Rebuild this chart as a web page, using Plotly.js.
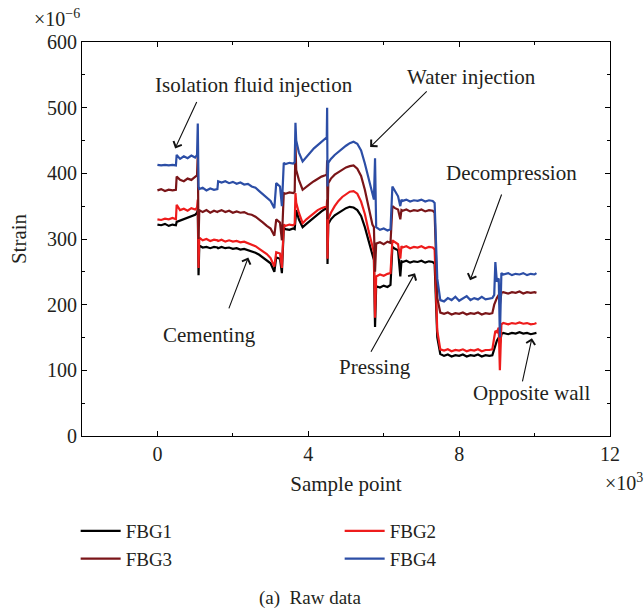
<!DOCTYPE html>
<html>
<head>
<meta charset="utf-8">
<script src="https://cdn.plot.ly/plotly-3.0.1.min.js"></script>
<style>html,body{margin:0;padding:0;background:#fff;}#chart{width:644px;height:608px;}</style>
</head>
<body>
<div id="chart"></div>
<script>
// Sample point (x10^3)
const samplePoint = [0,0.1,0.2,0.3,0.4,0.49,0.51,0.6,0.7,0.8,0.9,1.0,1.05,1.07,1.09,1.11,1.2,1.3,1.4,1.5,1.59,1.61,1.7,1.8,1.9,2.0,2.1,2.2,2.3,2.4,2.5,2.6,2.7,2.8,2.9,3.0,3.1,3.15,3.25,3.3,3.35,3.4,3.5,3.6,3.64,3.66,3.68,3.75,3.85,3.95,4.05,4.15,4.25,4.35,4.45,4.49,4.5,4.51,4.53,4.6,4.7,4.8,4.9,5.0,5.1,5.2,5.3,5.4,5.5,5.6,5.7,5.74,5.77,5.8,5.9,6.0,6.1,6.18,6.23,6.3,6.38,6.44,6.47,6.5,6.6,6.7,6.8,6.9,7.0,7.1,7.2,7.3,7.35,7.42,7.5,7.6,7.7,7.8,7.9,8.0,8.1,8.2,8.3,8.4,8.5,8.6,8.7,8.8,8.88,8.93,8.96,9.0,9.05,9.08,9.12,9.17,9.3,9.4,9.5,9.6,9.7,9.8,9.9,10.0,10.05];
const fbg1 = [322,321,323,320,322,321,326,328,330,332,334,337,340,345,245,290,287,288,286,288,287,286,288,286,287,285,286,284,285,283,282,279,276,272,268,263,250,272,270,248,317,315,314,316,315,340,344,330,318,323,328,333,338,342,346,347,340,262,323,330,336,340,344,347,349,348,344,335,318,298,275,268,166,228,226,229,227,230,288,285,283,243,266,265,267,264,266,265,267,264,266,265,262,150,125,122,124,121,123,122,124,121,123,122,124,121,123,122,123,132,140,145,150,140,155,157,155,157,156,158,156,157,155,156,157];
const fbg2 = [330,329,331,330,332,330,352,344,346,343,347,345,348,360,256,302,298,300,297,299,298,297,299,296,298,296,297,295,296,294,292,289,285,281,277,271,258,280,278,256,322,320,322,321,323,370,355,340,324,330,335,340,344,347,349,350,360,270,330,340,350,358,364,368,372,373,369,357,338,312,287,280,180,243,246,244,247,248,298,295,292,270,289,287,289,286,288,287,289,286,288,287,284,160,132,130,132,129,131,130,132,129,131,130,132,129,131,131,132,150,160,158,165,100,170,172,170,172,171,173,171,172,170,171,172];
const fbg3 = [374,376,373,375,374,375,395,390,388,392,390,394,397,430,300,344,341,344,340,343,341,342,344,341,343,340,342,340,341,338,337,334,330,325,320,316,305,330,325,298,370,369,371,370,372,445,405,390,375,380,384,388,392,395,397,398,420,330,385,392,398,402,406,409,411,412,407,396,375,348,322,318,250,293,295,292,296,294,350,347,345,330,344,343,345,342,344,343,345,342,344,343,340,210,188,186,188,185,187,186,188,185,187,186,188,185,187,186,187,200,205,210,215,200,218,219,217,219,218,220,217,219,218,219,218];
const fbg4 = [413,412,413,412,413,412,428,422,426,423,427,424,428,476,380,376,378,374,377,375,376,388,386,388,385,387,384,386,383,384,380,378,373,368,362,358,347,385,380,350,416,414,416,415,417,477,450,432,418,425,431,438,443,448,453,455,500,380,416,422,428,433,438,442,446,448,445,435,415,392,370,360,423,318,314,316,313,315,380,372,365,350,360,358,360,357,359,358,360,357,359,358,355,240,207,205,210,207,212,206,209,213,207,210,208,212,208,209,210,215,265,235,240,150,248,246,248,245,247,246,248,245,247,246,248];
const seriesNames = ['FBG1','FBG2','FBG3','FBG4'];
const seriesColors = ['#000000','#ee1c1c','#7a1518','#2c4ea6'];
const tickVals = [0,4,8,12];
const tickText = ['0','4','8','12'];

const serif = 'Liberation Serif, Times New Roman, serif';
const txt = '#231f20';
const ys = [fbg1,fbg2,fbg3,fbg4];
const legendOf = ['legend','legend2','legend','legend2'];
const traces = ys.map((y,i)=>({
  x: samplePoint, y: y, type:'scatter', mode:'lines', name: seriesNames[i], legend: legendOf[i],
  line:{color: seriesColors[i], width:2.2}
}));

function arrow(tx,ty,axv,ayv){
  return {x:tx,y:ty,ax:axv,ay:ayv,xref:'x',yref:'y',axref:'x',ayref:'y',text:'',showarrow:true,
    arrowhead:4,arrowsize:1.6,arrowwidth:1.1,arrowcolor:'#111'};
}
function label(t,x,y){
  return {x:x,y:y,xref:'x',yref:'y',text:t,showarrow:false,font:{family:serif,size:21,color:txt}};
}
const legendBase = {orientation:'v',y:-0.193,xanchor:'left',yanchor:'top',bgcolor:'rgba(0,0,0,0)',
  font:{family:serif,size:19,color:txt},tracegroupgap:0,itemwidth:40};

const layout = {
  width:644,height:608,
  margin:{l:82,r:34,t:42,b:172},
  paper_bgcolor:'#fff',plot_bgcolor:'#fff',
  font:{family:serif,size:19,color:txt},
  showlegend:true,
  legend:Object.assign({},legendBase,{x:-0.012}),
  legend2:Object.assign({},legendBase,{x:0.488}),
  xaxis:{range:[-2,12],tickvals:tickVals,ticktext:tickText,showline:true,linecolor:'#000',linewidth:1,mirror:'ticks',
    ticks:'inside',ticklen:5,tickcolor:'#000',showgrid:false,zeroline:false,
    minor:{tickvals:[-2,2,6,10],ticks:'inside',ticklen:3,tickcolor:'#000'},
    title:{text:'Sample point',font:{family:serif,size:21,color:txt},standoff:12},
    tickfont:{family:serif,size:20,color:txt}},
  yaxis:{range:[0,600],dtick:100,showline:true,linecolor:'#000',linewidth:1,mirror:'ticks',
    ticks:'inside',ticklen:5,tickcolor:'#000',showgrid:false,zeroline:false,
    minor:{dtick:50,ticks:'inside',ticklen:3,tickcolor:'#000'},
    title:{text:'Strain',font:{family:serif,size:21,color:txt},standoff:14},
    tickfont:{family:serif,size:20,color:txt}},
  annotations:[
    arrow(0.47,438,1.06,511),
    arrow(5.64,440,7.18,527),
    arrow(8.29,237,9.14,370),
    arrow(2.41,272,1.88,192),
    arrow(6.83,248,5.64,126),
    arrow(9.93,149,9.67,81),
    label('Isolation fluid injection',2.57,534),
    label('Water injection',8.32,546),
    label('Decompression',9.40,400),
    label('Cementing',1.38,154),
    label('Pressing',5.77,105),
    label('Opposite wall',9.91,65),
    {xref:'paper',yref:'paper',x:-0.094,y:1.062,xanchor:'left',yanchor:'middle',showarrow:false,
     text:'×10<sup>−6</sup>',font:{family:serif,size:20,color:txt}},
    {xref:'paper',yref:'paper',x:0.986,y:-0.117,xanchor:'left',yanchor:'middle',showarrow:false,
     text:'×10<sup>3</sup>',font:{family:serif,size:20,color:txt}},
    {xref:'paper',yref:'paper',x:0.432,y:-0.41,xanchor:'center',yanchor:'middle',showarrow:false,
     text:'(a)  Raw data',font:{family:serif,size:19,color:txt}}
  ]
};
Plotly.newPlot('chart',traces,layout,{displayModeBar:false,staticPlot:true});
</script>
</body>
</html>
